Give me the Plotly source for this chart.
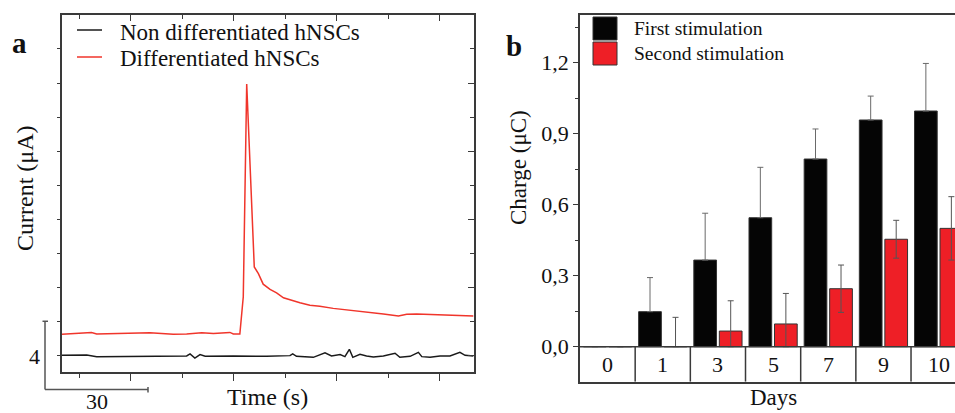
import plotly.graph_objects as go

# ---------------- Panel a data (time in s, current in uA, relative to black baseline)
black_t = [0, 7.2, 10.1, 20.8, 27.6, 36.3, 37.3, 38.7, 40.2, 41.7, 49.9, 59.6, 66.4, 67.2,
           68.3, 73.2, 76.6, 78.5, 81.0, 82.4, 83.7, 84.7, 86.8, 88.7, 90.7, 93.6, 97.0,
           98.4, 101.4, 103.8, 104.8, 107.2, 110.1, 113.0, 115.9, 117.4, 119.8]
black_i = [0.04, 0.06, -0.04, -0.02, 0.02, 0.0, 0.12, -0.12, 0.08, -0.02, 0.0, -0.02, 0.02, 0.12,
           -0.02, -0.08, 0.19, 0.0, 0.08, -0.04, 0.39, -0.08, 0.10, 0.0, -0.06, 0.0, 0.16,
           -0.08, -0.02, 0.21, -0.04, -0.08, 0.0, 0.0, 0.21, 0.04, 0.0]

red_t = [0, 4.3, 8.6, 10.1, 15.9, 25.6, 32.4, 36.3, 40.7, 44.1, 48.9, 49.9, 51.8, 52.8,
         53.8, 56.0, 57.2, 58.6, 60.6, 62.5, 64.5, 67.4, 69.3, 72.2, 75.1, 79.0, 83.9,
         88.7, 93.6, 98.0, 100.4, 103.3, 108.2, 113.0, 119.8]
red_i = [1.27, 1.33, 1.38, 1.29, 1.33, 1.36, 1.27, 1.29, 1.36, 1.31, 1.38, 1.29, 1.29, 3.47,
         15.95, 5.22, 4.83, 4.21, 3.90, 3.70, 3.41, 3.22, 3.12, 2.98, 2.92, 2.79, 2.69,
         2.59, 2.46, 2.34, 2.44, 2.46, 2.42, 2.38, 2.34]

series_a_names = ["Non differentiated hNSCs", "Differentiated hNSCs"]

# ---------------- Panel b data
days = ["0", "1", "3", "5", "7", "9", "10"]
first_stim = [0.0, 0.148, 0.366, 0.545, 0.793, 0.958, 0.996]
first_err = [0.0, 0.144, 0.198, 0.213, 0.127, 0.101, 0.201]
second_stim = [0.0, 0.0, 0.066, 0.096, 0.245, 0.454, 0.500]
second_err = [0.0, 0.124, 0.128, 0.129, 0.100, 0.080, 0.134]
series_b_names = ["First stimulation", "Second stimulation"]
y_ticks_b = [0.0, 0.3, 0.6, 0.9, 1.2]

W, H = 955, 413
FONT = "Liberation Serif"
AX = "#3a3a3a"
RED = "#ee1f26"

def px(x):
    return x / W

def py(y):
    return 1 - y / H

# layout geometry (pixels)
A_L, A_R, A_T, A_B = 62, 474, 15, 372
B_L, B_R, B_T, B_B = 580, 955, 15, 381.7

xa_range = [0, 120]
ya_range = [-0.94, 19.99]
xb_range = [-0.5, 6.297]
yb_range = [-0.148, 1.4017]

fig = go.Figure()

fig.add_trace(go.Scatter(x=black_t, y=black_i, mode="lines", name=series_a_names[0],
                         line=dict(color="#1a1a1a", width=1.5), showlegend=False,
                         xaxis="x", yaxis="y"))
fig.add_trace(go.Scatter(x=red_t, y=red_i, mode="lines", name=series_a_names[1],
                         line=dict(color="#f0352b", width=1.5), showlegend=False,
                         xaxis="x", yaxis="y"))
# empty traces to activate mirrored inside-tick axes
fig.add_trace(go.Scatter(x=[], y=[], xaxis="x3", yaxis="y", showlegend=False, hoverinfo="skip"))
fig.add_trace(go.Scatter(x=[], y=[], xaxis="x", yaxis="y3", showlegend=False, hoverinfo="skip"))

second_minus = [min(e, v) for e, v in zip(second_err, second_stim)]
fig.add_trace(go.Bar(x=days, y=first_stim, name=series_b_names[0],
                     marker=dict(color="#050505", line=dict(color="#333333", width=1)),
                     error_y=dict(type="data", array=first_err, arrayminus=[0] * len(first_err),
                                  symmetric=False, color="#6a6a6a", thickness=1, width=3),
                     xaxis="x2", yaxis="y2", showlegend=False))
fig.add_trace(go.Bar(x=days, y=second_stim, name=series_b_names[1],
                     marker=dict(color=RED, line=dict(color="#333333", width=1)),
                     error_y=dict(type="data", array=second_err, arrayminus=second_minus,
                                  symmetric=False, color="#555555", thickness=1, width=3),
                     xaxis="x2", yaxis="y2", showlegend=False))

shapes = []
annotations = []

# ----- panel b table under zero line
shapes.append(dict(type="line", xref="x2", yref="y2", x0=xb_range[0], x1=xb_range[1], y0=0, y1=0,
                   line=dict(color=AX, width=1.5)))
for k in range(len(days) - 1):
    shapes.append(dict(type="line", xref="x2", yref="y2", x0=k + 0.5, x1=k + 0.5,
                       y0=yb_range[0], y1=0, line=dict(color=AX, width=1.5)))
for k, d in enumerate(days):
    annotations.append(dict(x=k, y=yb_range[0] / 2, xref="x2", yref="y2", text=d, showarrow=False,
                            font=dict(family=FONT, size=22, color="#111"),
                            xanchor="center", yanchor="middle"))

# ----- scale bars for panel a (lengths from axis scales)
sx = (A_R - A_L) / (xa_range[1] - xa_range[0])
sy = (A_B - A_T) / (ya_range[1] - ya_range[0])
bar_x0, bar_y0 = 45, 389.5
bar_len_x = 30 * sx
bar_len_y = 4 * sy
SB = "#555555"
shapes += [
    dict(type="line", xref="paper", yref="paper", x0=px(bar_x0), x1=px(bar_x0),
         y0=py(bar_y0), y1=py(bar_y0 - bar_len_y), line=dict(color=SB, width=1.5)),
    dict(type="line", xref="paper", yref="paper", x0=px(bar_x0 - 2.5), x1=px(bar_x0 + 3),
         y0=py(bar_y0 - bar_len_y), y1=py(bar_y0 - bar_len_y), line=dict(color=SB, width=1.5)),
    dict(type="line", xref="paper", yref="paper", x0=px(bar_x0), x1=px(bar_x0 + bar_len_x),
         y0=py(bar_y0), y1=py(bar_y0), line=dict(color=SB, width=1.5)),
    dict(type="line", xref="paper", yref="paper", x0=px(bar_x0 + bar_len_x), x1=px(bar_x0 + bar_len_x),
         y0=py(bar_y0 - 2.5), y1=py(bar_y0 + 3), line=dict(color=SB, width=1.5)),
]
annotations.append(dict(x=px(34), y=py(356), xref="paper", yref="paper", text="4", showarrow=False,
                        font=dict(family=FONT, size=22, color="#111"), xanchor="center", yanchor="middle"))
annotations.append(dict(x=px(bar_x0 + bar_len_x / 2), y=py(401), xref="paper", yref="paper", text="30",
                        showarrow=False, font=dict(family=FONT, size=22, color="#111"),
                        xanchor="center", yanchor="middle"))

# ----- legend panel a
for (yy, col, name) in [(30, "#1a1a1a", series_a_names[0]), (57, "#f0352b", series_a_names[1])]:
    shapes.append(dict(type="line", xref="paper", yref="paper", x0=px(77), x1=px(102),
                       y0=py(yy), y1=py(yy), line=dict(color=col, width=1.5)))
    annotations.append(dict(x=px(118), y=py(yy + 2), xref="paper", yref="paper", text=name,
                            showarrow=False, font=dict(family=FONT, size=23, color="#111"),
                            xanchor="left", yanchor="middle"))

# ----- legend panel b
for (y0, y1, col, name) in [(17, 40, "#050505", series_b_names[0]), (42, 65, RED, series_b_names[1])]:
    shapes.append(dict(type="rect", xref="paper", yref="paper", x0=px(593), x1=px(617),
                       y0=py(y1), y1=py(y0), fillcolor=col, line=dict(color="#333333", width=1)))
    annotations.append(dict(x=px(632), y=py((y0 + y1) / 2), xref="paper", yref="paper", text=name,
                            showarrow=False, font=dict(family=FONT, size=19.5, color="#111"),
                            xanchor="left", yanchor="middle"))

# ----- titles and panel letters
annotations += [
    dict(x=px(25), y=py(188), xref="paper", yref="paper", text="Current (\u03bcA)", textangle=-90,
         showarrow=False, font=dict(family=FONT, size=24, color="#111"), xanchor="center", yanchor="middle"),
    dict(x=px(267), y=py(397), xref="paper", yref="paper", text="Time (s)",
         showarrow=False, font=dict(family=FONT, size=24, color="#111"), xanchor="center", yanchor="middle"),
    dict(x=px(518), y=py(168), xref="paper", yref="paper", text="Charge (\u03bcC)", textangle=-90,
         showarrow=False, font=dict(family=FONT, size=23, color="#111"), xanchor="center", yanchor="middle"),
    dict(x=px(773), y=py(397), xref="paper", yref="paper", text="Days",
         showarrow=False, font=dict(family=FONT, size=23, color="#111"), xanchor="center", yanchor="middle"),
    dict(x=px(19), y=py(43), xref="paper", yref="paper", text="<b>a</b>",
         showarrow=False, font=dict(family=FONT, size=29, color="#111"), xanchor="center", yanchor="middle"),
    dict(x=px(514), y=py(46), xref="paper", yref="paper", text="<b>b</b>",
         showarrow=False, font=dict(family=FONT, size=29, color="#111"), xanchor="center", yanchor="middle"),
]

axis_common = dict(showgrid=False, zeroline=False, linecolor=AX, linewidth=1.5, tickcolor=AX, tickwidth=1.2)

fig.update_layout(
    width=W, height=H, autosize=False,
    margin=dict(l=0, r=0, t=0, b=0, pad=0),
    paper_bgcolor="white", plot_bgcolor="white",
    separators=",.",
    barmode="group", bargap=0.075, bargroupgap=0.11,
    font=dict(family=FONT, size=22, color="#111"),
    xaxis=dict(domain=[px(A_L), px(A_R)], range=xa_range, anchor="y", showline=True, mirror=True,
               ticks="outside", tickmode="array", tickvals=[20, 50, 80, 110], ticklen=7,
               showticklabels=False,
               minor=dict(ticks="outside", tick0=5, dtick=15, ticklen=4, tickcolor=AX, tickwidth=1.2),
               **axis_common),
    yaxis=dict(domain=[py(A_B), py(A_T)], range=ya_range, anchor="x", showline=True, mirror=True,
               ticks="outside", tickmode="array", tickvals=[0, 4, 8, 12, 16], ticklen=3,
               showticklabels=False,
               minor=dict(ticks="outside", tick0=0, dtick=2, ticklen=3, tickcolor=AX, tickwidth=1.2),
               **axis_common),
    xaxis3=dict(overlaying="x", side="top", anchor="y", range=xa_range, showline=False,
                ticks="inside", tickmode="array", tickvals=[20, 50, 80, 110], ticklen=6,
                showticklabels=False, showgrid=False, zeroline=False, tickcolor=AX, tickwidth=1.2,
                minor=dict(ticks="inside", tick0=5, dtick=15, ticklen=4, tickcolor=AX, tickwidth=1.2)),
    yaxis3=dict(overlaying="y", side="right", anchor="x", range=ya_range, showline=False,
                ticks="inside", tickmode="array", tickvals=[0, 4, 8, 12, 16], ticklen=6,
                showticklabels=False, showgrid=False, zeroline=False, tickcolor=AX, tickwidth=1.2,
                minor=dict(ticks="inside", tick0=0, dtick=2, ticklen=4, tickcolor=AX, tickwidth=1.2)),
    xaxis2=dict(domain=[px(B_L), px(B_R)], range=xb_range, anchor="y2", showline=True, mirror=True,
                ticks="", showticklabels=False, type="category", **axis_common),
    yaxis2=dict(domain=[py(B_B), py(B_T)], range=yb_range, anchor="x2", showline=True, mirror=False,
                ticks="outside", tickmode="array", tickvals=y_ticks_b, tickformat=".1f", ticklen=5,
                tickfont=dict(family=FONT, size=22, color="#111"),
                minor=dict(ticks="outside", tickmode="array",
                           tickvals=[v + 0.15 for v in y_ticks_b], ticklen=3, tickcolor=AX, tickwidth=1.2),
                **axis_common),
    shapes=shapes,
    annotations=annotations,
)

fig.write_html("out.html", config={"displayModeBar": False},
               post_script="document.body.style.margin='0px';")
